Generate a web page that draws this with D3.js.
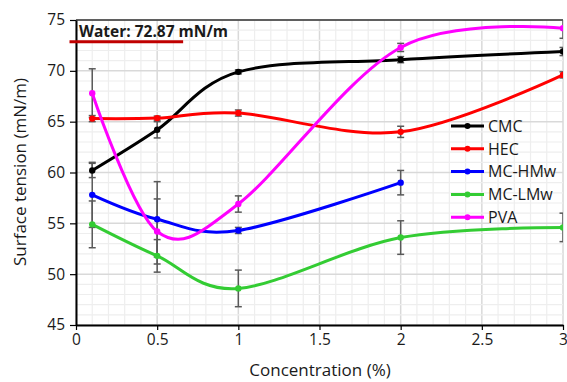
<html>
<head>
  <meta charset="utf-8" />
  <script src="https://cdnjs.cloudflare.com/ajax/libs/d3/7.8.5/d3.min.js"></script>
  <style>
    body { margin: 0; background: #fff; }
    text { font-family: "Open Sans", sans-serif; fill: #1a1a1a; }
    .axis path.domain { stroke: #000; stroke-width: 2; }
    .axis .tick line { stroke: #000; stroke-width: 1.2; }
    .axis .tick text { font-size: 15.5px; }
  </style>
</head>
<body>
  <svg></svg>
  <script>
    var concentration = [0.1, 0.5, 1, 2, 3]
    var seriesNames = ["CMC", "HEC", "MC-HMw", "MC-LMw", "PVA"]
    var colors = ["#000000", "#ff0000", "#0000ff", "#33cc33", "#ff00ff"]

    var cmc = [60.2, 64.2, 69.9, 71.1, 71.9]
    var cmcErr = [0.7, 0.8, 0.2, 0.3, 0.4]
    var hec = [65.3, 65.35, 65.85, 64.0, 69.6]
    var hecErr = [0.3, 0.2, 0.3, 0.55, 0.3]
    var mcHMw = [57.8, 55.4, 54.3, 59.0]
    var mcHMwErr = [3.2, 3.7, 0.3, 1.2]
    var mcLMw = [54.9, 51.8, 48.6, 53.6, 54.6]
    var mcLMwErr = [2.3, 1.6, 1.8, 1.65, 1.4]
    var pva = [67.8, 54.2, 56.9, 72.3, 74.2]
    var pvaErr = [2.4, 3.2, 0.8, 0.4, 1.0]

    var waterValue = 72.87
    var waterSpan = [-0.04, 0.66]

    var xTicks = [0, 0.5, 1, 1.5, 2, 2.5, 3]
    var yTicks = [45, 50, 55, 60, 65, 70, 75]

    var values = [cmc, hec, mcHMw, mcLMw, pva]
    var errors = [cmcErr, hecErr, mcHMwErr, mcLMwErr, pvaErr]

    var svg = d3.select("svg").attr("width", 567).attr("height", 382)

    var x = d3.scaleLinear().domain([0, 3]).range([76, 563])
    var y = d3.scaleLinear().domain([45, 75]).range([325, 20])

    svg.append("clipPath").attr("id", "plot")
      .append("rect").attr("x", 76).attr("y", 20).attr("width", 487).attr("height", 305)

    // grid
    var grid = svg.append("g")
    grid.selectAll("line.vmin").data(d3.range(0, 31).map(i => i / 10)).enter()
      .append("line")
        .attr("x1", d => x(d)).attr("x2", d => x(d))
        .attr("y1", 20).attr("y2", 325)
        .attr("stroke", (d, i) => i % 5 == 0 ? "#d9d9d9" : "#eeeeee")
        .attr("stroke-width", (d, i) => i % 5 == 0 ? 1.5 : 1.2)
    grid.selectAll("line.hmin").data(d3.range(45, 76)).enter()
      .append("line")
        .attr("x1", 76).attr("x2", 563)
        .attr("y1", d => y(d)).attr("y2", d => y(d))
        .attr("stroke", d => d % 5 == 0 ? "#d9d9d9" : "#eeeeee")
        .attr("stroke-width", d => d % 5 == 0 ? 1.5 : 1.2)

    // top border
    svg.append("line").attr("x1", 76).attr("x2", 563).attr("y1", y(75)).attr("y2", y(75))
      .attr("stroke", "#333").attr("stroke-width", 1.5)

    // error bars
    var eb = svg.append("g").attr("clip-path", "url(#plot)")
    values.forEach(function(vals, s) {
      vals.forEach(function(v, i) {
        var cx = x(concentration[i]), lo = y(v - errors[s][i]), hi = y(v + errors[s][i])
        eb.append("line").attr("x1", cx).attr("x2", cx).attr("y1", lo).attr("y2", hi)
          .attr("stroke", "#595959").attr("stroke-width", 1.5)
        eb.append("line").attr("x1", cx - 3.5).attr("x2", cx + 3.5).attr("y1", lo).attr("y2", lo)
          .attr("stroke", "#595959").attr("stroke-width", 1.5)
        eb.append("line").attr("x1", cx - 3.5).attr("x2", cx + 3.5).attr("y1", hi).attr("y2", hi)
          .attr("stroke", "#595959").attr("stroke-width", 1.5)
      })
    })

    // series
    var line = d3.line()
      .x((d, i) => x(concentration[i]))
      .y(d => y(d))
      .curve(d3.curveCardinal.tension(0))

    var series = svg.append("g").attr("clip-path", "url(#plot)")
    values.forEach(function(vals, s) {
      series.append("path")
        .attr("d", line(vals))
        .attr("fill", "none")
        .attr("stroke", colors[s])
        .attr("stroke-width", 3)
      series.selectAll(null).data(vals).enter()
        .append("circle")
          .attr("cx", (d, i) => x(concentration[i]))
          .attr("cy", d => y(d))
          .attr("r", 3.2)
          .attr("fill", colors[s])
    })

    // axes
    svg.append("g").attr("class", "axis")
      .attr("transform", "translate(0,325)")
      .call(d3.axisBottom(x).tickValues(xTicks).tickSize(5).tickSizeOuter(0).tickPadding(4).tickFormat(d3.format("")))
    svg.append("g").attr("class", "axis")
      .attr("transform", "translate(76,0)")
      .call(d3.axisLeft(y).tickValues(yTicks).tickSize(6).tickSizeOuter(0).tickPadding(5))

    // water reference
    svg.append("line")
      .attr("x1", x(waterSpan[0])).attr("x2", x(waterSpan[1]))
      .attr("y1", y(waterValue)).attr("y2", y(waterValue))
      .attr("stroke", "#c00000").attr("stroke-width", 3)
    svg.append("text").attr("x", 79).attr("y", 36.5)
      .style("font-size", "15.5px").style("font-weight", "bold")
      .text("Water: 72.87 mN/m")

    // legend
    var legend = svg.append("g")
    seriesNames.forEach(function(name, i) {
      var ly = 126 + i * 22.8
      legend.append("line").attr("x1", 451).attr("x2", 484).attr("y1", ly).attr("y2", ly)
        .attr("stroke", colors[i]).attr("stroke-width", 3)
      legend.append("circle").attr("cx", 467.5).attr("cy", ly).attr("r", 3).attr("fill", colors[i])
      legend.append("text").attr("x", 488).attr("y", ly).attr("dy", "0.36em")
        .style("font-size", "16px").text(name)
    })

    // titles
    svg.append("text").attr("x", 320).attr("y", 376).attr("text-anchor", "middle")
      .style("font-size", "17px").text("Concentration (%)")
    svg.append("text").attr("transform", "translate(26,172) rotate(-90)").attr("text-anchor", "middle")
      .style("font-size", "17px").text("Surface tension (mN/m)")
  </script>
</body>
</html>
